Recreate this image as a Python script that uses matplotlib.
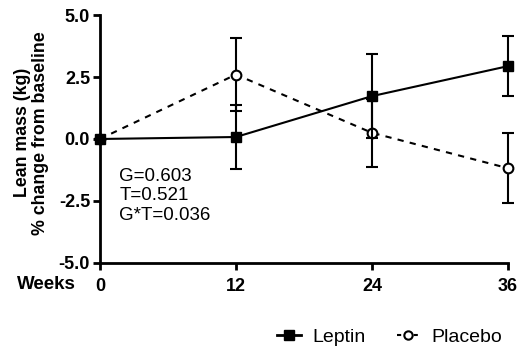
import matplotlib
matplotlib.use("Agg")
import matplotlib.pyplot as plt
from matplotlib.lines import Line2D

weeks = [0, 12, 24, 36]
leptin = [0.0, 0.08, 1.73, 2.94]
leptin_err = [0.0, 1.28, 1.69, 1.21]
placebo = [0.0, 2.6, 0.25, -1.18]
placebo_err = [0.0, 1.47, 1.37, 1.42]
stats_text = "G=0.603\nT=0.521\nG*T=0.036"

plt.rcParams['font.family'] = ['Liberation Sans', 'DejaVu Sans']

fig = plt.figure(figsize=(5.2, 3.51), dpi=100)
ax = fig.add_axes([0.192, 0.251, 0.785, 0.706])

ax.errorbar(weeks, placebo, yerr=placebo_err, color='black', lw=1.5,
            ls=(0, (3, 3)), marker='o', ms=7, mfc='white', mec='black', mew=1.5,
            capsize=4, capthick=1.5, elinewidth=1.5, clip_on=False, zorder=3)
ax.errorbar(weeks, leptin, yerr=leptin_err, color='black', lw=1.5,
            ls='-', marker='s', ms=6.5, mfc='black', mec='black',
            capsize=4, capthick=1.5, elinewidth=1.5, clip_on=False, zorder=4)

ax.set_xlim(0, 36)
ax.set_ylim(-5, 5)
ax.set_xticks(weeks)
ax.set_yticks([-5, -2.5, 0, 2.5, 5])
ax.set_yticklabels(['-5.0', '-2.5', '0.0', '2.5', '5.0'])
for s in ['top', 'right']:
    ax.spines[s].set_visible(False)
for s in ['left', 'bottom']:
    ax.spines[s].set_linewidth(2)
ax.tick_params(width=2, length=5, labelsize=13, pad=2)
ax.tick_params(axis='x', pad=6)
for lab in ax.get_xticklabels() + ax.get_yticklabels():
    lab.set_fontweight('bold')

ax.set_ylabel("Lean mass (kg)\n% change from baseline", fontsize=12.8,
              fontweight='bold', linespacing=1.1)
ax.yaxis.set_label_coords(-0.125, 0.525)

ax.text(0.048, 0.27, stats_text, transform=ax.transAxes, fontsize=13.5,
        va='center', ha='left', linespacing=1.2)

fig.text(0.09, 0.19, "Weeks", fontsize=13.5, fontweight='bold',
         ha='center', va='center')

handles = [
    Line2D([], [], color='black', lw=2, ls='-', marker='s', ms=6.5),
    Line2D([], [], color='black', lw=1.5, ls=(0, (2, 2)), marker='o', ms=6,
           mfc='white', mew=1.5),
]
fig.legend(handles, ['Leptin', 'Placebo'], loc='center right',
           bbox_to_anchor=(1.0, 0.04), ncol=2, frameon=False,
           fontsize=14, handlelength=1.2, columnspacing=1.6, handletextpad=0.6)

fig.savefig("out.png", dpi=100)
